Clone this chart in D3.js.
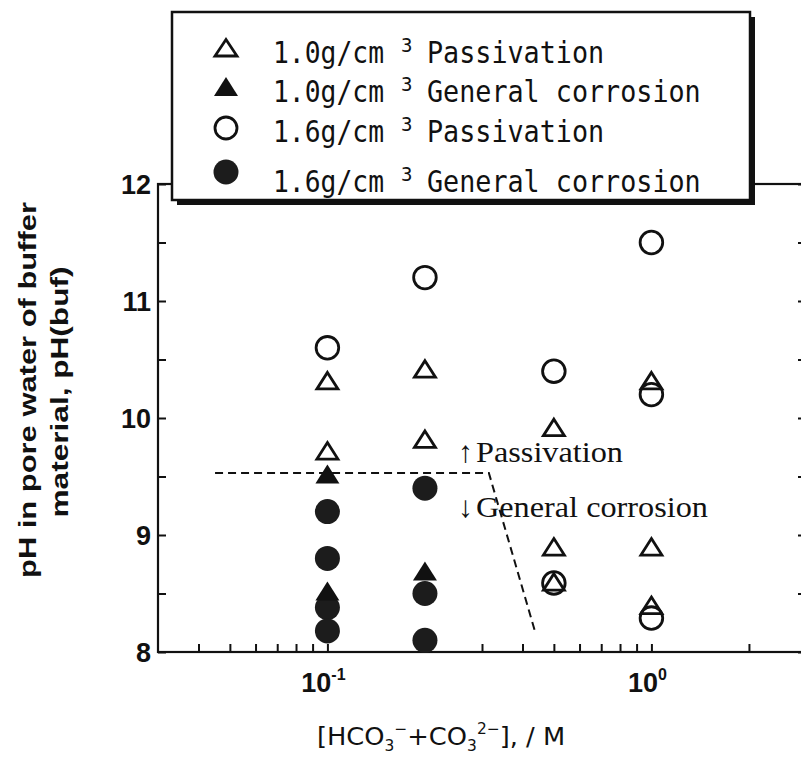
<!DOCTYPE html>
<html>
<head>
<meta charset="utf-8">
<script src="https://cdn.jsdelivr.net/npm/d3@7"></script>
<style>
  body { margin: 0; background: #fff; }
  svg { display: block; }
</style>
</head>
<body>
<div id="viz"></div>
<script>
// data: [concentration M, pH]
var passiv10 = [[0.1, 10.3], [0.1, 9.7], [0.2, 10.4], [0.2, 9.8], [0.5, 9.9], [0.5, 8.88], [0.5, 8.58], [1, 10.3], [1, 8.88], [1, 8.38]];
var corr10 = [[0.1, 9.5], [0.1, 8.5], [0.2, 8.67]];
var passiv16 = [[0.1, 10.6], [0.2, 11.2], [0.5, 10.4], [0.5, 8.59], [1, 11.5], [1, 10.2], [1, 8.29]];
var corr16 = [[0.1, 9.2], [0.1, 8.8], [0.1, 8.38], [0.1, 8.18], [0.2, 9.4], [0.2, 8.5], [0.2, 8.1]];

var boundary = [[0.045, 9.53], [0.315, 9.53], [0.44, 8.15]];

var yTicks = [8, 9, 10, 11, 12];
var yMinor = [8.5, 9.5, 10.5, 11.5];
var xMajor = [0.1, 1];
var xExp = ['-1', '0'];
var xMinor = [0.04, 0.05, 0.06, 0.07, 0.08, 0.09, 0.2, 0.3, 0.4, 0.5, 0.6, 0.7, 0.8, 0.9, 2];

var legendLabels = ['1.0g/cm', '1.0g/cm', '1.6g/cm', '1.6g/cm'];
var legendNames = ['Passivation', 'General corrosion', 'Passivation', 'General corrosion'];

var w = 801, h = 759;

var svg = d3.select('#viz').append('svg')
  .attr('width', w)
  .attr('height', h);

var x = d3.scaleLog().domain([0.03, 3]).range([158, 806]);
var y = d3.scaleLinear().domain([8, 12]).range([652, 184]);

var ink = '#111';

// frame
svg.append('rect')
  .attr('x', x(0.03)).attr('y', y(12))
  .attr('width', x(3) - x(0.03)).attr('height', y(8) - y(12))
  .attr('fill', 'none').attr('stroke', ink).attr('stroke-width', 2.2);

// left axis ticks, inward
svg.append('g')
  .attr('transform', 'translate(' + x(0.03) + ',0)')
  .call(d3.axisRight(y).tickValues(yTicks.concat(yMinor)).tickSize(8).tickFormat(''))
  .call(g => g.select('.domain').remove())
  .selectAll('line').attr('stroke', ink).attr('stroke-width', 2);

// right axis ticks, inward
svg.append('g')
  .attr('transform', 'translate(' + x(3) + ',0)')
  .call(d3.axisLeft(y).tickValues(yTicks.concat(yMinor)).tickSize(8).tickFormat(''))
  .call(g => g.select('.domain').remove())
  .selectAll('line').attr('stroke', ink).attr('stroke-width', 2);

// bottom ticks, inward
svg.append('g')
  .attr('transform', 'translate(0,' + y(8) + ')')
  .call(d3.axisTop(x).tickValues(xMajor.concat(xMinor)).tickSize(8).tickFormat(''))
  .call(g => g.select('.domain').remove())
  .selectAll('line').attr('stroke', ink).attr('stroke-width', 2);

// y tick labels
svg.append('g').selectAll('text')
  .data(yTicks)
  .enter().append('text')
  .attr('x', 151)
  .attr('y', d => y(d) + 10)
  .attr('text-anchor', 'end')
  .attr('font-family', 'Liberation Sans, Arial, sans-serif')
  .attr('font-weight', 'bold')
  .attr('font-size', 27)
  .attr('fill', ink)
  .text(d => d);

// x tick labels 10^n
var xl = svg.append('g').selectAll('text')
  .data(xMajor)
  .enter().append('text')
  .attr('x', d => x(d) - 4)
  .attr('y', 692)
  .attr('text-anchor', 'middle')
  .attr('font-family', 'Liberation Sans, Arial, sans-serif')
  .attr('font-weight', 'bold')
  .attr('font-size', 27)
  .attr('fill', ink);
xl.append('tspan').text('10');
xl.append('tspan')
  .attr('dy', -12)
  .attr('font-size', 16)
  .text((d, i) => xExp[i]);

// boundary line
svg.append('path')
  .datum(boundary)
  .attr('d', d3.line().x(d => x(d[0])).y(d => y(d[1])))
  .attr('fill', 'none')
  .attr('stroke', ink)
  .attr('stroke-width', 2)
  .attr('stroke-dasharray', '8,5');

// markers
var triPath = 'M0,-12L12,7L-12,7Z';

svg.append('g').selectAll('circle')
  .data(corr16)
  .enter().append('circle')
  .attr('cx', d => x(d[0])).attr('cy', d => y(d[1]))
  .attr('r', 12.5)
  .attr('fill', '#1c1c1c');

svg.append('g').selectAll('circle')
  .data(passiv16)
  .enter().append('circle')
  .attr('cx', d => x(d[0])).attr('cy', d => y(d[1]))
  .attr('r', 11.3)
  .attr('fill', 'none')
  .attr('stroke', ink)
  .attr('stroke-width', 2.8);

svg.append('g').selectAll('path')
  .data(corr10)
  .enter().append('path')
  .attr('d', triPath)
  .attr('transform', d => 'translate(' + x(d[0]) + ',' + y(d[1]) + ')')
  .attr('fill', '#111');

svg.append('g').selectAll('path')
  .data(passiv10)
  .enter().append('path')
  .attr('d', 'M0,-10.5L10.5,6L-10.5,6Z')
  .attr('transform', d => 'translate(' + x(d[0]) + ',' + y(d[1]) + ')')
  .attr('fill', 'none')
  .attr('stroke', ink)
  .attr('stroke-width', 2.8)
  .attr('stroke-linejoin', 'miter');

// annotations
var ann = svg.append('g')
  .attr('font-family', 'Liberation Serif, Times New Roman, serif')
  .attr('font-size', 30)
  .attr('fill', ink);
ann.append('text').attr('x', 458).attr('y', 462).text('\u2191');
ann.append('text').attr('x', 476).attr('y', 462)
  .attr('textLength', 147).attr('lengthAdjust', 'spacingAndGlyphs')
  .text('Passivation');
ann.append('text').attr('x', 458).attr('y', 517).text('\u2193');
ann.append('text').attr('x', 476).attr('y', 517)
  .attr('textLength', 232).attr('lengthAdjust', 'spacingAndGlyphs')
  .text('General corrosion');

// legend
var lg = svg.append('g');
lg.append('rect')
  .attr('x', 177).attr('y', 17).attr('width', 578).attr('height', 188)
  .attr('fill', ink);
lg.append('rect')
  .attr('x', 172).attr('y', 12).attr('width', 578).attr('height', 188)
  .attr('fill', '#fff').attr('stroke', ink).attr('stroke-width', 2.5);

var rowBase = [63, 102, 142, 192];
var symY = [50, 89, 128, 172];

lg.append('path').attr('d', 'M0,-10.5L11,6L-11,6Z')
  .attr('transform', 'translate(226,' + symY[0] + ')')
  .attr('fill', 'none').attr('stroke', ink).attr('stroke-width', 2.8);
lg.append('path').attr('d', triPath)
  .attr('transform', 'translate(226,' + symY[1] + ')')
  .attr('fill', ink);
lg.append('circle').attr('cx', 226).attr('cy', symY[2]).attr('r', 11)
  .attr('fill', 'none').attr('stroke', ink).attr('stroke-width', 2.8);
lg.append('circle').attr('cx', 226).attr('cy', symY[3]).attr('r', 12.5)
  .attr('fill', '#1c1c1c');

var rows = lg.selectAll('g.row')
  .data(legendNames)
  .enter().append('g')
  .attr('class', 'row')
  .attr('font-family', 'DejaVu Sans Mono, monospace')
  .attr('fill', ink);

rows.append('text')
  .attr('x', 273).attr('y', (d, i) => rowBase[i])
  .attr('font-size', 30)
  .attr('textLength', 111).attr('lengthAdjust', 'spacingAndGlyphs')
  .text((d, i) => legendLabels[i]);
rows.append('text')
  .attr('x', 401).attr('y', (d, i) => rowBase[i] - 11)
  .attr('font-size', 19)
  .text('3');
rows.append('text')
  .attr('x', 427).attr('y', (d, i) => rowBase[i])
  .attr('font-size', 30)
  .attr('textLength', d => d.length * 16.1).attr('lengthAdjust', 'spacingAndGlyphs')
  .text(d => d);

// y axis title
var yt = svg.append('g')
  .attr('font-family', 'Liberation Sans, Arial, sans-serif')
  .attr('font-weight', 'bold')
  .attr('font-size', 23)
  .attr('fill', ink);
yt.append('text')
  .attr('transform', 'translate(36,390) rotate(-90)')
  .attr('text-anchor', 'middle')
  .attr('textLength', 376).attr('lengthAdjust', 'spacingAndGlyphs')
  .text('pH in pore water of buffer');
yt.append('text')
  .attr('transform', 'translate(68,392) rotate(-90)')
  .attr('text-anchor', 'middle')
  .attr('textLength', 251).attr('lengthAdjust', 'spacingAndGlyphs')
  .text('material, pH(buf)');

// x axis title
var xt = svg.append('g')
  .attr('transform', 'translate(441,745) scale(1.03,1)')
  .append('text')
  .attr('text-anchor', 'middle')
  .attr('font-family', 'DejaVu Sans, sans-serif')
  .attr('font-size', 25)
  .attr('fill', ink);
xt.append('tspan').text('[HCO');
xt.append('tspan').attr('font-size', 15).attr('dy', 6).text('3');
xt.append('tspan').attr('font-size', 15).attr('dy', -17).text('\u2212');
xt.append('tspan').attr('dy', 11).text('+CO');
xt.append('tspan').attr('font-size', 15).attr('dy', 6).text('3');
xt.append('tspan').attr('font-size', 15).attr('dy', -17).text('2\u2212');
xt.append('tspan').attr('dy', 11).text('],  /  M');
</script>
</body>
</html>
